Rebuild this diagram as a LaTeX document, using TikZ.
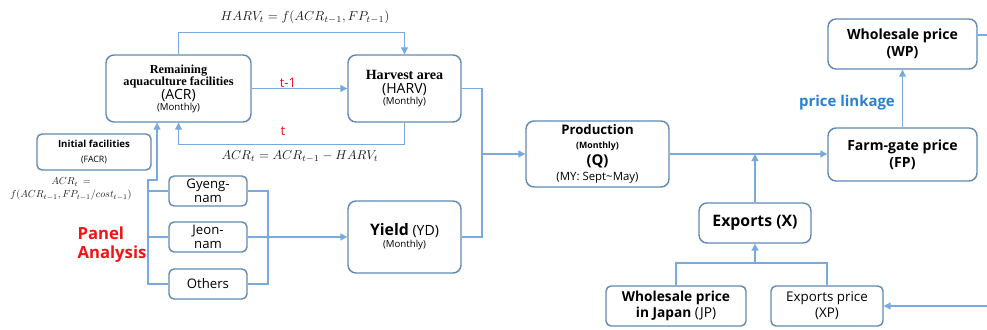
\documentclass[tikz,border=0pt]{standalone}
\usepackage{amsmath}
\usepackage{fontspec}
\setmainfont{Open Sans}
\newfontfamily\titlefont{Liberation Serif}
\usetikzlibrary{arrows.meta,calc}
\definecolor{mpbox}{RGB}{96,136,178}
\definecolor{mpline}{RGB}{120,170,222}
\definecolor{mpred}{RGB}{240,20,20}
\definecolor{mpblue}{RGB}{40,128,208}
\definecolor{mpmath}{RGB}{30,30,30}

\begin{document}
\begin{tikzpicture}[x=0.02cm,y=-0.02cm,
  box/.style={draw=mpbox,line width=0.8pt,rounded corners=0.16cm,align=center,
    inner sep=1pt,font=\fontsize{7}{8}\selectfont},
  small/.style={box,rounded corners=0.1cm},
  line/.style={draw=mpline,line width=0.6pt},
  arr/.style={line,-{Triangle[length=4pt,width=4pt]}},
  mtext/.style={text=mpmath,font=\fontsize{10}{11}\selectfont}]
  \useasboundingbox (0,0) rectangle (987,330);
  % boxes
  \node[box,minimum width=2.9cm,minimum height=1.34cm] (ACR) at (178.5,88.5)
    {{\titlefont\bfseries Remaining}\\[-1pt]{\titlefont\bfseries aquaculture facilities}\\{\fontsize{8}{9}\selectfont (ACR)}\\[-2pt]{\fontsize{5.5}{6}\selectfont (Monthly)}};
  \node[box,minimum width=2.26cm,minimum height=1.34cm] (HARV) at (404.5,88.5)
    {{\titlefont\bfseries\fontsize{8}{9}\selectfont Harvest area}\\{\fontsize{8}{9}\selectfont (HARV)}\\[-2pt]{\fontsize{5.5}{6}\selectfont (Monthly)}};
  \node[small,minimum width=2.28cm,minimum height=0.72cm] (FACR) at (94,152)
    {{\bfseries\fontsize{5.5}{6.5}\selectfont Initial facilities}\\{\fontsize{5}{6}\selectfont (FACR)}};
  \node[small,minimum width=1.56cm,minimum height=0.6cm,font=\fontsize{7.5}{8}\selectfont] (Gyeng) at (208,191) {Gyeng-\\nam};
  \node[small,minimum width=1.56cm,minimum height=0.6cm,font=\fontsize{7.5}{8}\selectfont] (Jeon) at (208,237) {Jeon-\\nam};
  \node[small,minimum width=1.56cm,minimum height=0.6cm,font=\fontsize{7.5}{8}\selectfont] (Others) at (208,284) {Others};
  \node[box,minimum width=2.26cm,minimum height=1.44cm,font=\fontsize{8}{9}\selectfont] (Yield) at (404.5,237)
    {{\bfseries\fontsize{9}{10}\selectfont Yield} (YD)\\[-2pt]{\fontsize{5.5}{6}\selectfont (Monthly)}};
  \node[box,minimum width=2.86cm,minimum height=1.32cm] (Prod) at (597.5,154)
    {{\bfseries\fontsize{7.5}{8}\selectfont Production}\\{\bfseries\fontsize{5}{6}\selectfont (Monthly)}\\[1.5pt]{\bfseries\fontsize{8.5}{9}\selectfont (Q)}\\[1pt]{\fontsize{6.5}{7}\selectfont (MY: Sept\textasciitilde May)}};
  \node[box,minimum width=2.98cm,minimum height=1.06cm,font=\bfseries\fontsize{8}{9.5}\selectfont] (FP) at (902.5,154.5) {Farm-gate price\\(FP)};
  \node[box,minimum width=2.98cm,minimum height=1.0cm,font=\bfseries\fontsize{8}{9.5}\selectfont] (WP) at (902.5,44) {Wholesale price\\(WP)};
  \node[box,minimum width=2.24cm,minimum height=0.8cm,font=\bfseries\fontsize{9}{10}\selectfont] (X) at (755,223) {Exports (X)};
  \node[small,minimum width=2.8cm,minimum height=0.8cm,font=\fontsize{7.8}{9}\selectfont] (JP) at (676,306)
    {{\bfseries Wholesale price}\\{\bfseries in Japan} (JP)};
  \node[small,minimum width=2.24cm,minimum height=0.8cm,font=\fontsize{7.6}{9}\selectfont] (XP) at (827,306) {Exports price\\(XP)};
  % free ends and junctions
  \coordinate (busL) at (148,180);
  \coordinate (busR) at (268,192);
  \coordinate (busQ) at (482,154);
  \coordinate (joinX) at (755,263);
  \coordinate (edgeW) at (987,35);
  \coordinate (edgeX) at (987,306);
  % harvest loop
  \draw[arr] (ACR.north) -- ++(0,-22) -| (HARV.north);
  \draw[arr] (ACR.east) -- (HARV.west);
  \draw[arr] (HARV.south) -- ++(0,22) -| (ACR.south);
  % regions
  \draw[arr] (Others.west) -| (busL) -| ([xshift=-0.43cm]ACR.south);
  \draw[line] (Gyeng.west) -- (Gyeng.west -| busL);
  \draw[line] (Jeon.west) -- (Jeon.west -| busL);
  \draw[line] (Gyeng.east) -- (Gyeng.east -| busR) -- (Others.east -| busR) -- (Others.east);
  \draw[arr] (Jeon.east) -- (Yield.west);
  % production and prices
  \draw[line] (HARV.east) -| (busQ) |- (Yield.east);
  \draw[arr] (busQ) -- (Prod.west);
  \draw[arr] (Prod.east) -- (Prod.east -| FP.west);
  \draw[arr] (X.north) -- (X.north |- Prod.east);
  \draw[arr] (FP.north) -- (WP.south);
  \draw[line] (WP.east |- edgeW) -- (edgeW);
  \draw[line] (JP.north) |- (joinX) -| (XP.north);
  \draw[arr] (joinX) -- (X.south);
  \draw[arr] (edgeX) -- (XP.east);
  % labels
  \node[mtext] (fHARV) at (305,17) {\scalebox{0.74}{$HARV_t = f(ACR_{t-1}, FP_{t-1})$}};
  \node[mtext] (fACR) at (300,157) {\scalebox{0.73}{$ACR_t = ACR_{t-1} - HARV_t$}};
  \node[mtext] (fACRa) at (71,182) {\scalebox{0.58}{$ACR_t\,=$}};
  \node[mtext] (fACRb) at (71,195) {\scalebox{0.58}{$f(ACR_{t-1},FP_{t-1}/cost_{t-1})$}};
  \node[text=mpred,font=\fontsize{7.5}{8}\selectfont] (lag) at (288,83) {t-1};
  \node[text=mpred,font=\fontsize{7.5}{8}\selectfont] (now) at (283,131) {t};
  \node[text=mpred,font=\bfseries\fontsize{9.5}{11}\selectfont,align=left] (panel) at (112,245) {Panel\\Analysis};
  \node[text=mpblue,font=\bfseries\fontsize{8.5}{9}\selectfont] (link) at (847,103) {price linkage};
\end{tikzpicture}
\end{document}
